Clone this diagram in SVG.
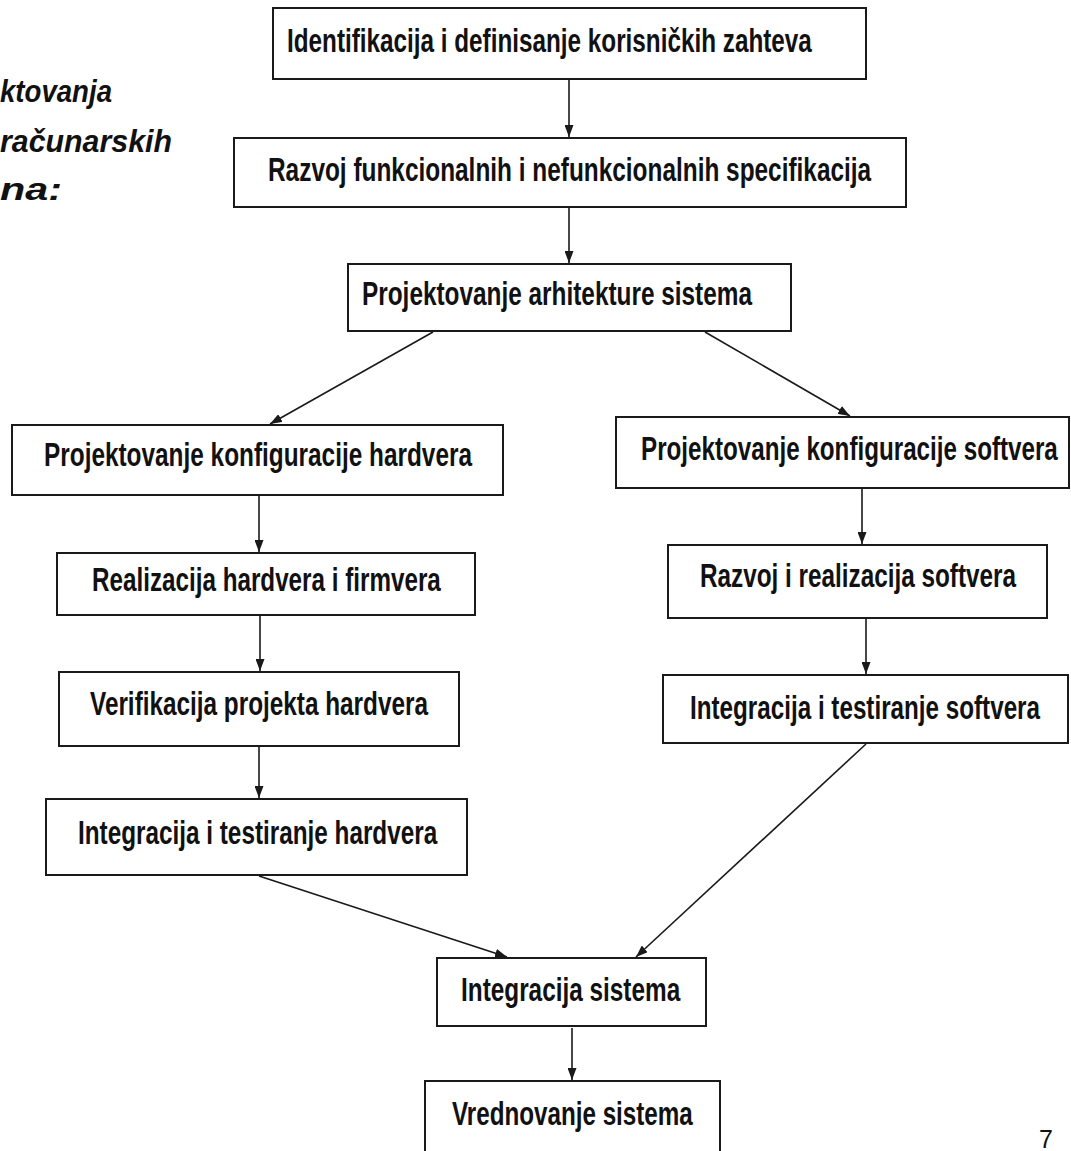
<svg xmlns="http://www.w3.org/2000/svg" width="1071" height="1151" viewBox="0 0 1071 1151">
<style>
.box{fill:#fff;stroke:#1a1a1a;stroke-width:2}
.lbl{font-family:"Liberation Sans Narrow","Liberation Sans",Arial,sans-serif;font-weight:bold;font-size:33px;fill:#111}
.title{font-family:"Liberation Sans",Arial,sans-serif;font-weight:bold;font-style:italic;font-size:32px;fill:#111}
.con{stroke:#1a1a1a;stroke-width:1.6;fill:none;marker-end:url(#ah)}
</style>
<defs>
<marker id="ah" viewBox="0 0 12 9" refX="12" refY="4.5" markerWidth="12" markerHeight="9" markerUnits="userSpaceOnUse" orient="auto">
<path d="M0,0 L12,4.5 L0,9 z" fill="#1a1a1a"/>
</marker>
</defs>
<rect width="1071" height="1151" fill="#fff"/>
<g id="title">
<text class="title" transform="translate(0,102) scale(0.8,1)" textLength="140" lengthAdjust="spacingAndGlyphs">ktovanja</text>
<text class="title" transform="translate(0,152) scale(0.8,1)" textLength="215" lengthAdjust="spacingAndGlyphs">računarskih</text>
<text class="title" transform="translate(0,200) scale(0.8,1)" textLength="77.5" lengthAdjust="spacingAndGlyphs">na:</text>
</g>
<g id="connectors">
<line class="con" x1="569" y1="80" x2="569" y2="137"/>
<line class="con" x1="569" y1="208" x2="569" y2="263"/>
<line class="con" x1="433" y1="332" x2="270" y2="424"/>
<line class="con" x1="705" y1="332" x2="850" y2="416"/>
<line class="con" x1="259" y1="496" x2="259" y2="552"/>
<line class="con" x1="862" y1="489" x2="862" y2="544"/>
<line class="con" x1="260" y1="616" x2="260" y2="671"/>
<line class="con" x1="866" y1="619" x2="866" y2="674"/>
<line class="con" x1="259" y1="747" x2="259" y2="798"/>
<line class="con" x1="259" y1="876" x2="507" y2="957"/>
<line class="con" x1="866" y1="744" x2="636" y2="957"/>
<line class="con" x1="572" y1="1028" x2="572" y2="1080"/>
</g>
<g id="n1"><rect class="box" x="273" y="8" width="593" height="71"/><text class="lbl" transform="translate(287,52) scale(0.8,1)" textLength="656" lengthAdjust="spacingAndGlyphs">Identifikacija i definisanje korisničkih zahteva</text></g>
<g id="n2"><rect class="box" x="234" y="138" width="672" height="69"/><text class="lbl" transform="translate(268,181) scale(0.8,1)" textLength="754" lengthAdjust="spacingAndGlyphs">Razvoj funkcionalnih i nefunkcionalnih specifikacija</text></g>
<g id="n3"><rect class="box" x="348" y="264" width="443" height="67"/><text class="lbl" transform="translate(362,305) scale(0.8,1)" textLength="487.5" lengthAdjust="spacingAndGlyphs">Projektovanje arhitekture sistema</text></g>
<g id="n4"><rect class="box" x="12" y="425" width="491" height="70"/><text class="lbl" transform="translate(44,466) scale(0.8,1)" textLength="535" lengthAdjust="spacingAndGlyphs">Projektovanje konfiguracije hardvera</text></g>
<g id="n5"><rect class="box" x="616" y="417" width="453" height="71"/><text class="lbl" transform="translate(641,460) scale(0.8,1)" textLength="521" lengthAdjust="spacingAndGlyphs">Projektovanje konfiguracije softvera</text></g>
<g id="n6"><rect class="box" x="57" y="553" width="418" height="62"/><text class="lbl" transform="translate(92,591) scale(0.8,1)" textLength="436" lengthAdjust="spacingAndGlyphs">Realizacija hardvera i firmvera</text></g>
<g id="n7"><rect class="box" x="668" y="545" width="379" height="73"/><text class="lbl" transform="translate(700,587) scale(0.8,1)" textLength="395" lengthAdjust="spacingAndGlyphs">Razvoj i realizacija softvera</text></g>
<g id="n8"><rect class="box" x="59" y="672" width="400" height="74"/><text class="lbl" transform="translate(90,715) scale(0.8,1)" textLength="422.5" lengthAdjust="spacingAndGlyphs">Verifikacija projekta hardvera</text></g>
<g id="n9"><rect class="box" x="663" y="675" width="405" height="68"/><text class="lbl" transform="translate(690,719) scale(0.8,1)" textLength="437.5" lengthAdjust="spacingAndGlyphs">Integracija i testiranje softvera</text></g>
<g id="n10"><rect class="box" x="46" y="799" width="421" height="76"/><text class="lbl" transform="translate(78,844) scale(0.8,1)" textLength="449" lengthAdjust="spacingAndGlyphs">Integracija i testiranje hardvera</text></g>
<g id="n11"><rect class="box" x="437" y="958" width="269" height="68"/><text class="lbl" transform="translate(461,1001) scale(0.8,1)" textLength="274" lengthAdjust="spacingAndGlyphs">Integracija sistema</text></g>
<g id="n12"><rect class="box" x="425" y="1081" width="295" height="80"/><text class="lbl" transform="translate(452,1125) scale(0.8,1)" textLength="301" lengthAdjust="spacingAndGlyphs">Vrednovanje sistema</text></g>
<text x="1039" y="1148" font-family="Liberation Sans, Arial, sans-serif" font-size="25" fill="#111">7</text>
</svg>
